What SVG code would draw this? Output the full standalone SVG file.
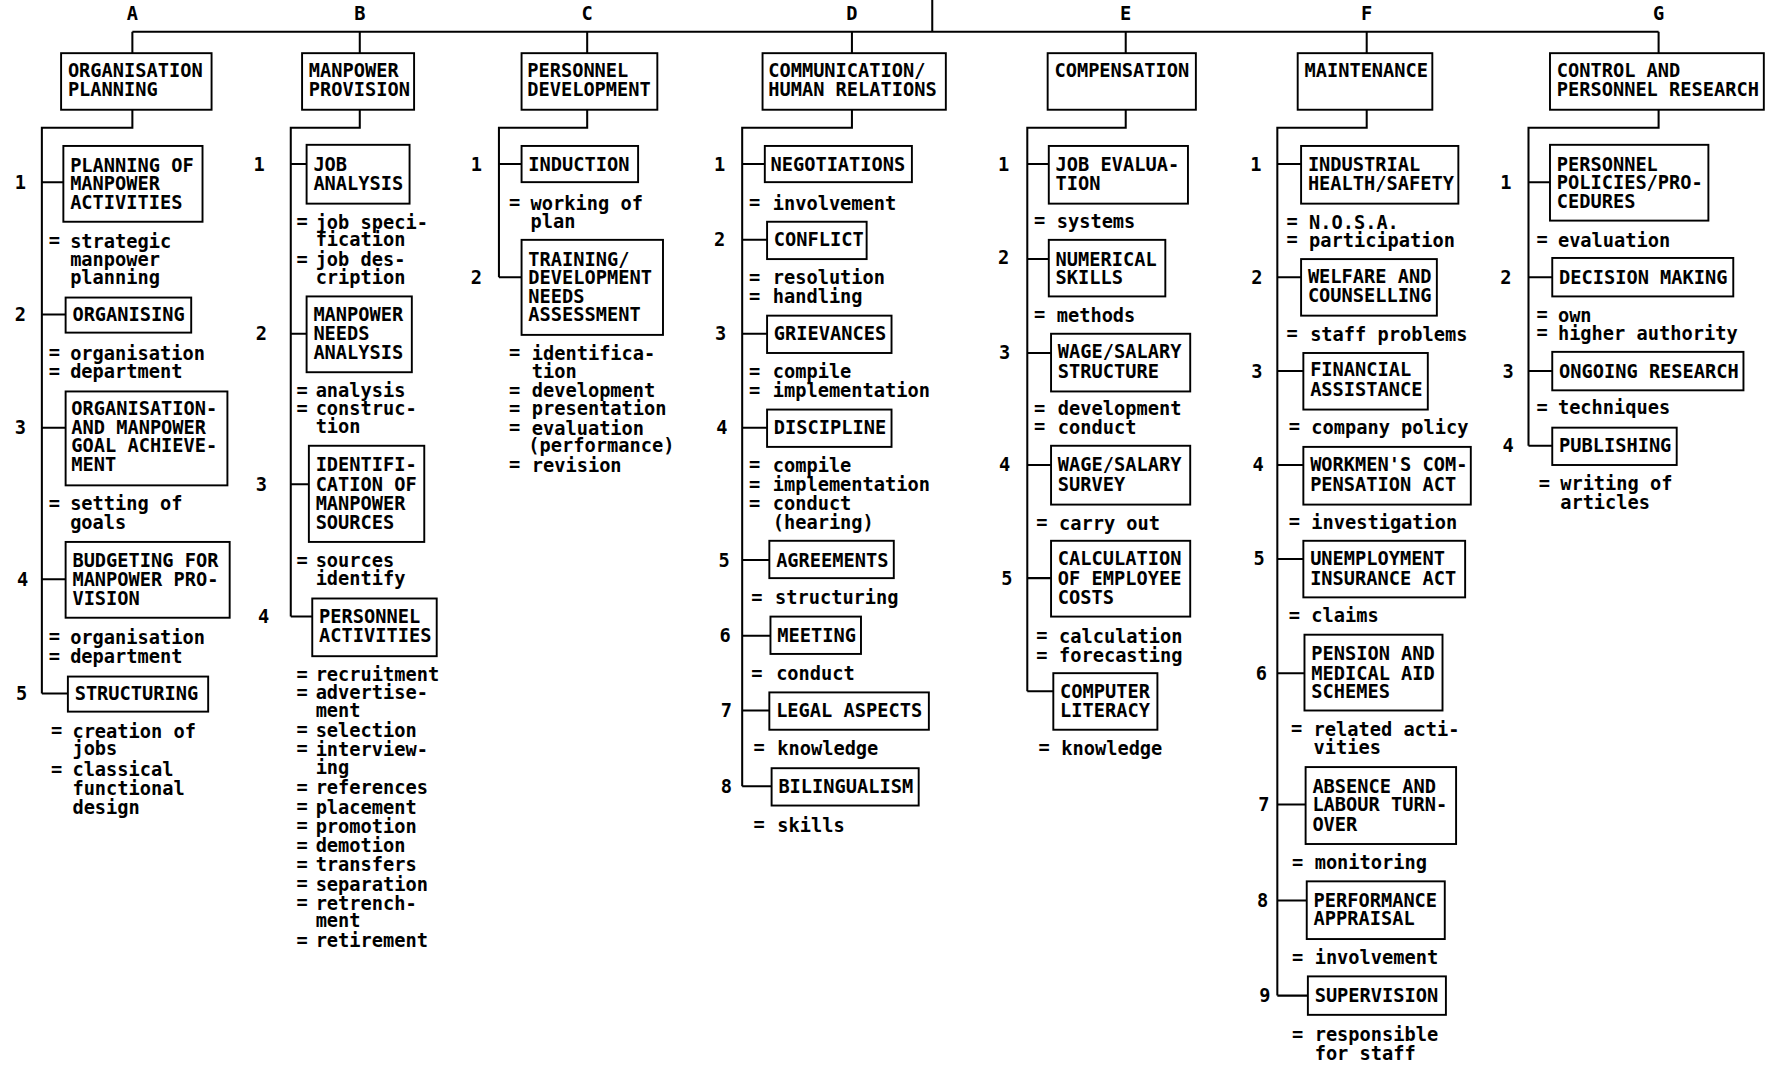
<svg xmlns="http://www.w3.org/2000/svg" width="1774" height="1065" viewBox="0 0 1774 1065">
<style>
.bx{fill:#fff;stroke:#000;stroke-width:1.7}
.ln{fill:none;stroke:#000;stroke-width:1.8}
text{font-family:"DejaVu Sans Mono","Liberation Mono",monospace;font-weight:bold;font-size:16.5px;fill:#000;dominant-baseline:central}
.n,.h{text-anchor:middle}
</style>
<rect width="1774" height="1065" fill="#fff"/>
<g transform="scale(1.13138)">
<g id="connectors">
<path class="ln" d="M824,0V28M117,28H1466M117,28V47M318,28V47M519,28V47M753,28V47M995,28V47M1208,28V47M1466,28V47"/>
<path class="ln" d="M117,97V113H37V613M37,161H56M37,278H58M37,378H58M37,512H58M37,613H60"/>
<path class="ln" d="M318,97V113H257V545M257,145H271M257,295H271M257,428H273M257,545H276"/>
<path class="ln" d="M519,97V113H441V245M441,145H461M441,245H461"/>
<path class="ln" d="M753,97V113H656V695M656,145H676M656,212H678M656,295H678M656,378H678M656,495H680M656,562H681M656,628H680M656,695H682"/>
<path class="ln" d="M995,97V113H908V611M908,145H927M908,229H927M908,312H929M908,411H929M908,511H929M908,611H931"/>
<path class="ln" d="M1208,97V113H1129V880M1129,145H1150M1129,245H1150M1129,328H1152M1129,411H1152M1129,494H1152M1129,595H1153M1129,711H1154M1129,796H1155M1129,880H1156"/>
<path class="ln" d="M1466,97V113H1351V394M1351,161H1370M1351,245H1372M1351,328H1372M1351,394H1372"/>
</g>
<g id="letters">
<text class="h" x="117" y="12">A</text><text class="h" x="318" y="12">B</text><text class="h" x="519" y="12">C</text><text class="h" x="753" y="12">D</text><text class="h" x="995" y="12">E</text><text class="h" x="1208" y="12">F</text><text class="h" x="1466" y="12">G</text>
</g>
<!-- Headers -->
<g id="hA"><rect class="bx" x="54" y="47" width="133" height="50"/><text x="60" y="62">ORGANISATION</text><text x="60" y="79">PLANNING</text></g>
<g id="hB"><rect class="bx" x="267" y="47" width="99" height="50"/><text x="273" y="62">MANPOWER</text><text x="273" y="79">PROVISION</text></g>
<g id="hC"><rect class="bx" x="461" y="47" width="120" height="50"/><text x="466" y="62">PERSONNEL</text><text x="466" y="79">DEVELOPMENT</text></g>
<g id="hD"><rect class="bx" x="674" y="47" width="162" height="50"/><text x="679" y="62">COMMUNICATION/</text><text x="679" y="79">HUMAN RELATIONS</text></g>
<g id="hE"><rect class="bx" x="926" y="47" width="131" height="50"/><text x="932" y="62">COMPENSATION</text></g>
<g id="hF"><rect class="bx" x="1147" y="47" width="119" height="50"/><text x="1153" y="62">MAINTENANCE</text></g>
<g id="hG"><rect class="bx" x="1370" y="47" width="189" height="50"/><text x="1376" y="62">CONTROL AND</text><text x="1376" y="79">PERSONNEL RESEARCH</text></g>
<!-- Column A -->
<g id="A1"><text class="n" x="18" y="161">1</text><rect class="bx" x="56" y="129" width="123" height="67"/><text x="62" y="146">PLANNING OF</text><text x="62" y="162">MANPOWER</text><text x="62" y="179">ACTIVITIES</text>
<text x="43" y="213">=<tspan x="62">strategic</tspan></text><text x="62" y="229">manpower</text><text x="62" y="245">planning</text></g>
<g id="A2"><text class="n" x="18" y="278">2</text><rect class="bx" x="58" y="263" width="111" height="31"/><text x="64" y="278">ORGANISING</text>
<text x="43" y="312">=<tspan x="62">organisation</tspan></text><text x="43" y="328">=<tspan x="62">department</tspan></text></g>
<g id="A3"><text class="n" x="18" y="378">3</text><rect class="bx" x="58" y="346" width="143" height="83"/><text x="63" y="361">ORGANISATION-</text><text x="63" y="378">AND MANPOWER</text><text x="63" y="394">GOAL ACHIEVE-</text><text x="63" y="411">MENT</text>
<text x="43" y="445">=<tspan x="62">setting of</tspan></text><text x="62" y="462">goals</text></g>
<g id="A4"><text class="n" x="20" y="512">4</text><rect class="bx" x="58" y="479" width="145" height="67"/><text x="64" y="495">BUDGETING FOR</text><text x="64" y="512">MANPOWER PRO-</text><text x="64" y="529">VISION</text>
<text x="43" y="563">=<tspan x="62">organisation</tspan></text><text x="43" y="580">=<tspan x="62">department</tspan></text></g>
<g id="A5"><text class="n" x="19" y="613">5</text><rect class="bx" x="60" y="598" width="124" height="31"/><text x="66" y="613">STRUCTURING</text>
<text x="45" y="646">=<tspan x="64">creation of</tspan></text><text x="64" y="662">jobs</text><text x="45" y="680">=<tspan x="64">classical</tspan></text><text x="64" y="697">functional</text><text x="64" y="714">design</text></g>
<!-- Column B -->
<g id="B1"><text class="n" x="229" y="145">1</text><rect class="bx" x="271" y="128" width="91" height="52"/><text x="277" y="145">JOB</text><text x="277" y="162">ANALYSIS</text>
<text x="262" y="196">=<tspan x="279">job speci-</tspan></text><text x="279" y="212">fication</text><text x="262" y="229">=<tspan x="279">job des-</tspan></text><text x="279" y="245">cription</text></g>
<g id="B2"><text class="n" x="231" y="295">2</text><rect class="bx" x="271" y="262" width="93" height="67"/><text x="277" y="278">MANPOWER</text><text x="277" y="295">NEEDS</text><text x="277" y="312">ANALYSIS</text>
<text x="262" y="345">=<tspan x="279">analysis</tspan></text><text x="262" y="361">=<tspan x="279">construc-</tspan></text><text x="279" y="377">tion</text></g>
<g id="B3"><text class="n" x="231" y="428">3</text><rect class="bx" x="273" y="394" width="102" height="85"/><text x="279" y="411">IDENTIFI-</text><text x="279" y="428">CATION OF</text><text x="279" y="445">MANPOWER</text><text x="279" y="462">SOURCES</text>
<text x="262" y="495">=<tspan x="279">sources</tspan></text><text x="279" y="511">identify</text></g>
<g id="B4"><text class="n" x="233" y="545">4</text><rect class="bx" x="276" y="529" width="110" height="51"/><text x="282" y="545">PERSONNEL</text><text x="282" y="562">ACTIVITIES</text>
<text x="262" y="596">=<tspan x="279">recruitment</tspan></text><text x="262" y="612">=<tspan x="279">advertise-</tspan></text><text x="279" y="628">ment</text><text x="262" y="645">=<tspan x="279">selection</tspan></text><text x="262" y="662">=<tspan x="279">interview-</tspan></text><text x="279" y="678">ing</text><text x="262" y="696">=<tspan x="279">references</tspan></text><text x="262" y="713">=<tspan x="279">placement</tspan></text><text x="262" y="730">=<tspan x="279">promotion</tspan></text><text x="262" y="747">=<tspan x="279">demotion</tspan></text><text x="262" y="764">=<tspan x="279">transfers</tspan></text><text x="262" y="781">=<tspan x="279">separation</tspan></text><text x="262" y="798">=<tspan x="279">retrench-</tspan></text><text x="279" y="814">ment</text><text x="262" y="831">=<tspan x="279">retirement</tspan></text></g>
<!-- Column C -->
<g id="C1"><text class="n" x="421" y="145">1</text><rect class="bx" x="461" y="129" width="103" height="32"/><text x="467" y="145">INDUCTION</text>
<text x="450" y="179">=<tspan x="469">working of</tspan></text><text x="469" y="196">plan</text></g>
<g id="C2"><text class="n" x="421" y="245">2</text><rect class="bx" x="461" y="212" width="125" height="84"/><text x="467" y="229">TRAINING/</text><text x="467" y="245">DEVELOPMENT</text><text x="467" y="262">NEEDS</text><text x="467" y="278">ASSESSMENT</text>
<text x="450" y="312">=<tspan x="470">identifica-</tspan></text><text x="470" y="328">tion</text><text x="450" y="345">=<tspan x="470">development</tspan></text><text x="450" y="361">=<tspan x="470">presentation</tspan></text><text x="450" y="378">=<tspan x="470">evaluation</tspan></text><text x="467" y="394">(performance)</text><text x="450" y="411">=<tspan x="470">revision</tspan></text></g>
<!-- Column D -->
<g id="D1"><text class="n" x="636" y="145">1</text><rect class="bx" x="676" y="129" width="130" height="32"/><text x="681" y="145">NEGOTIATIONS</text>
<text x="662" y="179">=<tspan x="683">involvement</tspan></text></g>
<g id="D2"><text class="n" x="636" y="212">2</text><rect class="bx" x="678" y="196" width="88" height="33"/><text x="684" y="212">CONFLICT</text>
<text x="662" y="245">=<tspan x="683">resolution</tspan></text><text x="662" y="262">=<tspan x="683">handling</tspan></text></g>
<g id="D3"><text class="n" x="637" y="295">3</text><rect class="bx" x="678" y="279" width="110" height="33"/><text x="684" y="295">GRIEVANCES</text>
<text x="662" y="328">=<tspan x="683">compile</tspan></text><text x="662" y="345">=<tspan x="683">implementation</tspan></text></g>
<g id="D4"><text class="n" x="638" y="378">4</text><rect class="bx" x="678" y="362" width="110" height="33"/><text x="684" y="378">DISCIPLINE</text>
<text x="662" y="411">=<tspan x="683">compile</tspan></text><text x="662" y="428">=<tspan x="683">implementation</tspan></text><text x="662" y="445">=<tspan x="683">conduct</tspan></text><text x="683" y="462">(hearing)</text></g>
<g id="D5"><text class="n" x="640" y="495">5</text><rect class="bx" x="680" y="478" width="110" height="33"/><text x="686" y="495">AGREEMENTS</text>
<text x="664" y="528">=<tspan x="685">structuring</tspan></text></g>
<g id="D6"><text class="n" x="641" y="562">6</text><rect class="bx" x="681" y="545" width="80" height="33"/><text x="687" y="562">MEETING</text>
<text x="664" y="595">=<tspan x="686">conduct</tspan></text></g>
<g id="D7"><text class="n" x="642" y="628">7</text><rect class="bx" x="680" y="612" width="141" height="33"/><text x="686" y="628">LEGAL ASPECTS</text>
<text x="666" y="661">=<tspan x="687">knowledge</tspan></text></g>
<g id="D8"><text class="n" x="642" y="695">8</text><rect class="bx" x="682" y="679" width="130" height="33"/><text x="688" y="695">BILINGUALISM</text>
<text x="666" y="729">=<tspan x="687">skills</tspan></text></g>
<!-- Column E -->
<g id="E1"><text class="n" x="887" y="145">1</text><rect class="bx" x="927" y="129" width="123" height="51"/><text x="933" y="145">JOB EVALUA-</text><text x="933" y="162">TION</text>
<text x="914" y="195">=<tspan x="934">systems</tspan></text></g>
<g id="E2"><text class="n" x="887" y="228">2</text><rect class="bx" x="927" y="212" width="103" height="50"/><text x="933" y="229">NUMERICAL</text><text x="933" y="245">SKILLS</text>
<text x="914" y="278">=<tspan x="934">methods</tspan></text></g>
<g id="E3"><text class="n" x="888" y="312">3</text><rect class="bx" x="929" y="295" width="123" height="51"/><text x="935" y="311">WAGE/SALARY</text><text x="935" y="328">STRUCTURE</text>
<text x="914" y="361">=<tspan x="935">development</tspan></text><text x="914" y="377">=<tspan x="935">conduct</tspan></text></g>
<g id="E4"><text class="n" x="888" y="411">4</text><rect class="bx" x="929" y="394" width="123" height="52"/><text x="935" y="411">WAGE/SALARY</text><text x="935" y="428">SURVEY</text>
<text x="916" y="462">=<tspan x="936">carry out</tspan></text></g>
<g id="E5"><text class="n" x="890" y="511">5</text><rect class="bx" x="929" y="478" width="123" height="67"/><text x="935" y="494">CALCULATION</text><text x="935" y="511">OF EMPLOYEE</text><text x="935" y="528">COSTS</text>
<text x="916" y="562">=<tspan x="936">calculation</tspan></text><text x="916" y="579">=<tspan x="936">forecasting</tspan></text></g>
<g id="E6"><rect class="bx" x="931" y="595" width="92" height="50"/><text x="937" y="611">COMPUTER</text><text x="937" y="628">LITERACY</text>
<text x="918" y="661">=<tspan x="938">knowledge</tspan></text></g>
<!-- Column F -->
<g id="F1"><text class="n" x="1110" y="145">1</text><rect class="bx" x="1150" y="129" width="139" height="51"/><text x="1156" y="145">INDUSTRIAL</text><text x="1156" y="162">HEALTH/SAFETY</text>
<text x="1137" y="196">=<tspan x="1157">N.O.S.A.</tspan></text><text x="1137" y="212">=<tspan x="1157">participation</tspan></text></g>
<g id="F2"><text class="n" x="1111" y="245">2</text><rect class="bx" x="1150" y="229" width="120" height="50"/><text x="1156" y="244">WELFARE AND</text><text x="1156" y="261">COUNSELLING</text>
<text x="1137" y="295">=<tspan x="1158">staff problems</tspan></text></g>
<g id="F3"><text class="n" x="1111" y="328">3</text><rect class="bx" x="1152" y="312" width="110" height="50"/><text x="1158" y="327">FINANCIAL</text><text x="1158" y="344">ASSISTANCE</text>
<text x="1139" y="377">=<tspan x="1159">company policy</tspan></text></g>
<g id="F4"><text class="n" x="1112" y="411">4</text><rect class="bx" x="1152" y="395" width="148" height="51"/><text x="1158" y="411">WORKMEN'S COM-</text><text x="1158" y="428">PENSATION ACT</text>
<text x="1139" y="461">=<tspan x="1159">investigation</tspan></text></g>
<g id="F5"><text class="n" x="1113" y="494">5</text><rect class="bx" x="1152" y="478" width="143" height="50"/><text x="1158" y="494">UNEMPLOYMENT</text><text x="1158" y="511">INSURANCE ACT</text>
<text x="1139" y="544">=<tspan x="1159">claims</tspan></text></g>
<g id="F6"><text class="n" x="1115" y="595">6</text><rect class="bx" x="1153" y="561" width="122" height="67"/><text x="1159" y="578">PENSION AND</text><text x="1159" y="595">MEDICAL AID</text><text x="1159" y="611">SCHEMES</text>
<text x="1141" y="644">=<tspan x="1161">related acti-</tspan></text><text x="1161" y="661">vities</text></g>
<g id="F7"><text class="n" x="1117" y="711">7</text><rect class="bx" x="1154" y="678" width="133" height="68"/><text x="1160" y="695">ABSENCE AND</text><text x="1160" y="711">LABOUR TURN-</text><text x="1160" y="729">OVER</text>
<text x="1142" y="762">=<tspan x="1162">monitoring</tspan></text></g>
<g id="F8"><text class="n" x="1116" y="796">8</text><rect class="bx" x="1155" y="779" width="122" height="51"/><text x="1161" y="796">PERFORMANCE</text><text x="1161" y="812">APPRAISAL</text>
<text x="1142" y="846">=<tspan x="1162">involvement</tspan></text></g>
<g id="F9"><text class="n" x="1118" y="880">9</text><rect class="bx" x="1156" y="863" width="122" height="34"/><text x="1162" y="880">SUPERVISION</text>
<text x="1142" y="914">=<tspan x="1162">responsible</tspan></text><text x="1162" y="931">for staff</text></g>
<!-- Column G -->
<g id="G1"><text class="n" x="1331" y="161">1</text><rect class="bx" x="1370" y="128" width="140" height="67"/><text x="1376" y="145">PERSONNEL</text><text x="1376" y="161">POLICIES/PRO-</text><text x="1376" y="178">CEDURES</text>
<text x="1358" y="212">=<tspan x="1377">evaluation</tspan></text></g>
<g id="G2"><text class="n" x="1331" y="245">2</text><rect class="bx" x="1372" y="228" width="160" height="34"/><text x="1378" y="245">DECISION MAKING</text>
<text x="1358" y="278">=<tspan x="1377">own</tspan></text><text x="1358" y="294">=<tspan x="1377">higher authority</tspan></text></g>
<g id="G3"><text class="n" x="1333" y="328">3</text><rect class="bx" x="1372" y="311" width="169" height="34"/><text x="1378" y="328">ONGOING RESEARCH</text>
<text x="1358" y="360">=<tspan x="1377">techniques</tspan></text></g>
<g id="G4"><text class="n" x="1333" y="394">4</text><rect class="bx" x="1372" y="378" width="110" height="33"/><text x="1378" y="394">PUBLISHING</text>
<text x="1360" y="427">=<tspan x="1379">writing of</tspan></text><text x="1379" y="444">articles</text></g>
</g>
</svg>
